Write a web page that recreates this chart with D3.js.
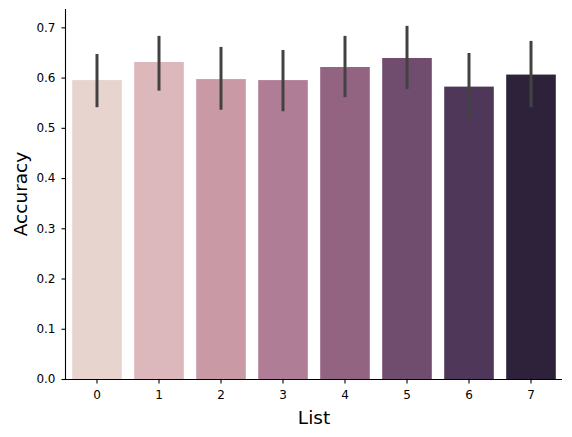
<!DOCTYPE html>
<html>
<head>
<meta charset="utf-8">
<script src="https://cdn.jsdelivr.net/npm/d3@7"></script>
<style>
  body { margin: 0; background: #fff; }
  text { font-family: "DejaVu Sans", sans-serif; }
</style>
</head>
<body>
<div id="chart"></div>
<script>
// data
var lists = ['0', '1', '2', '3', '4', '5', '6', '7'];
var accuracy = [0.595, 0.631, 0.597, 0.595, 0.621, 0.639, 0.582, 0.606];
var ci_low = [0.541, 0.574, 0.536, 0.533, 0.561, 0.577, 0.516, 0.541];
var ci_high = [0.647, 0.683, 0.661, 0.655, 0.683, 0.703, 0.649, 0.673];
var bar_colors = ['#e8d4cf', '#dcb7bb', '#c999a6', '#b07d96', '#936382', '#704d6f', '#4f3759', '#2e223a'];
var y_ticks = [0.0, 0.1, 0.2, 0.3, 0.4, 0.5, 0.6, 0.7];

var width = 572, height = 437;
var margin = { top: 9, right: 10, bottom: 58, left: 66 };

var svg = d3.select('#chart')
    .append('svg')
    .attr('width', width)
    .attr('height', height);

var x = d3.scaleBand()
    .domain(lists)
    .range([margin.left, width - margin.right])
    .paddingInner(0.2)
    .paddingOuter(0.1);

var y = d3.scaleLinear()
    .domain([0, 0.7365])
    .range([height - margin.bottom, margin.top]);

var data = lists.map(function(d, i) {
    return { list: d, acc: accuracy[i], lo: ci_low[i], hi: ci_high[i], color: bar_colors[i] };
});

// bars
svg.append('g')
    .selectAll('rect')
    .data(data)
    .enter()
    .append('rect')
    .attr('x', function(d) { return x(d.list); })
    .attr('width', x.bandwidth())
    .attr('y', function(d) { return y(d.acc); })
    .attr('height', function(d) { return y(0) - y(d.acc); })
    .attr('fill', function(d) { return d.color; });

// error bars
svg.append('g')
    .selectAll('line')
    .data(data)
    .enter()
    .append('line')
    .attr('x1', function(d) { return x(d.list) + x.bandwidth() / 2; })
    .attr('x2', function(d) { return x(d.list) + x.bandwidth() / 2; })
    .attr('y1', function(d) { return y(d.lo); })
    .attr('y2', function(d) { return y(d.hi); })
    .attr('stroke', '#424242')
    .attr('stroke-width', 3);

// axes
var xAxis = svg.append('g')
    .attr('transform', `translate(0, ${height - margin.bottom})`)
    .call(d3.axisBottom(x).tickSize(4.5).tickPadding(7));

var yAxis = svg.append('g')
    .attr('transform', `translate(${margin.left}, 0)`)
    .call(d3.axisLeft(y).tickValues(y_ticks).tickFormat(d3.format('.1f')).tickSize(4.5).tickPadding(6));

[xAxis, yAxis].forEach(function(ax) {
    ax.selectAll('text').style('font-size', '12px').attr('fill', '#000');
    ax.selectAll('line').attr('stroke', '#000').attr('stroke-width', 1.1);
    ax.select('.domain').attr('stroke', '#000').attr('stroke-width', 1.1);
});
// no outer ticks on the spines
xAxis.select('.domain').attr('d', `M${margin.left},0.5H${width - margin.right}`);
yAxis.select('.domain').attr('d', `M-0.5,${height - margin.bottom}V${margin.top}`);

svg.append('text')
    .attr('x', (margin.left + width - margin.right) / 2)
    .attr('y', 424)
    .attr('text-anchor', 'middle')
    .style('font-size', '18.5px')
    .text('List');

svg.append('text')
    .attr('transform', `translate(27, ${(margin.top + height - margin.bottom) / 2}) rotate(-90)`)
    .attr('text-anchor', 'middle')
    .style('font-size', '18.5px')
    .text('Accuracy');
</script>
</body>
</html>
